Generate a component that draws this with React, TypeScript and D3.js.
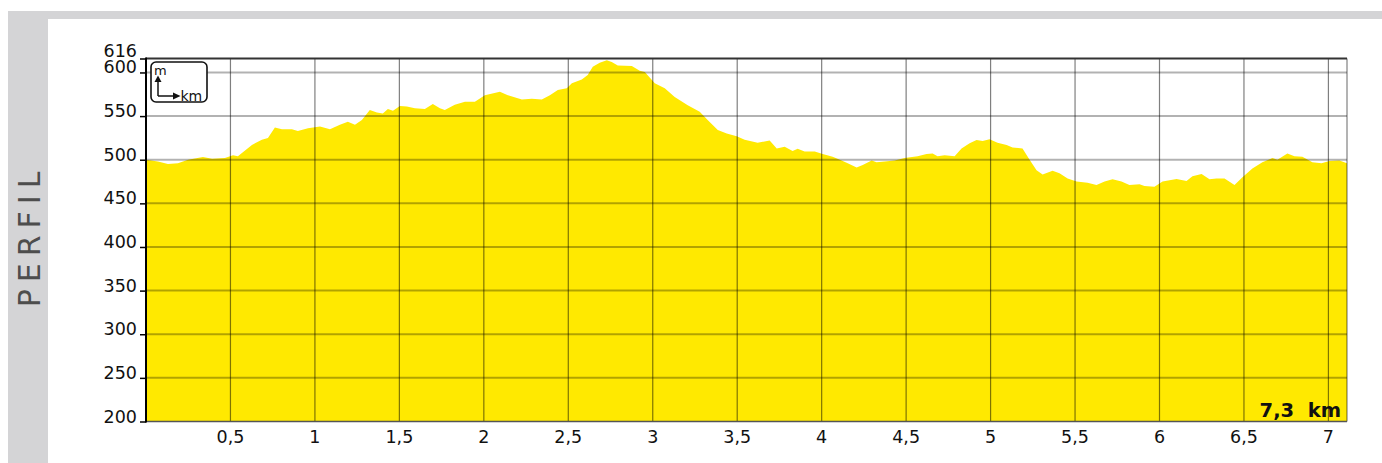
import * as d3 from 'd3';

// distance (km) and elevation (m)
const distKm = [
  0, 0.071, 0.13, 0.189, 0.249, 0.337, 0.391, 0.467, 0.515, 0.544, 0.627, 0.686, 0.722, 0.763,
  0.805, 0.864, 0.899, 0.959, 1.03, 1.089, 1.148, 1.195, 1.237, 1.278, 1.325, 1.367, 1.402,
  1.432, 1.462, 1.503, 1.544, 1.592, 1.651, 1.698, 1.74, 1.769, 1.828, 1.888, 1.947, 2.006,
  2.095, 2.142, 2.225, 2.284, 2.343, 2.391, 2.438, 2.491, 2.521, 2.58, 2.615, 2.645, 2.686,
  2.728, 2.757, 2.793, 2.876, 2.923, 2.953, 3.012, 3.071, 3.13, 3.207, 3.278, 3.325, 3.385,
  3.438, 3.497, 3.544, 3.621, 3.692, 3.734, 3.781, 3.828, 3.858, 3.899, 3.959, 4.006, 4.065,
  4.118, 4.154, 4.207, 4.243, 4.296, 4.325, 4.373, 4.432, 4.491, 4.568, 4.621, 4.657, 4.686,
  4.728, 4.787, 4.828, 4.876, 4.917, 4.953, 4.994, 5.041, 5.095, 5.13, 5.189, 5.231, 5.272,
  5.308, 5.367, 5.408, 5.456, 5.509, 5.574, 5.627, 5.675, 5.722, 5.775, 5.822, 5.882, 5.911,
  5.97, 6.018, 6.101, 6.16, 6.195, 6.249, 6.296, 6.337, 6.385, 6.444, 6.491, 6.55, 6.609,
  6.669, 6.698, 6.757, 6.799, 6.846, 6.905, 6.959, 7.006, 7.065, 7.11,
];
const elevM = [
  500, 498, 495, 496, 500, 503, 501, 502, 505, 504, 517, 523, 525, 537,
  535, 535, 533, 536, 538, 535, 540, 543.5, 540, 545.5, 557, 554, 553,
  558, 556, 561.5, 561, 559, 558, 564, 559, 557, 563, 566.5, 566.5, 574,
  578, 574, 569, 570, 569, 574, 580, 582, 587.5, 592, 597, 606.5, 611,
  614, 612, 608, 607.5, 602, 600.5, 587.5, 582, 572, 562.5, 555, 545.5, 534,
  530, 527, 523, 519.5, 522, 513, 515, 510, 512.5, 509.5, 509.5, 506.5, 503.5,
  499, 496, 491, 494, 499, 497, 498, 499, 502, 504, 506.5, 507, 504,
  505, 504, 513, 519, 522.5, 521.5, 523.5, 519.5, 517, 514, 513, 500, 488,
  483, 487.5, 484.5, 478.5, 475, 473.5, 471, 475, 477.5, 475, 471, 472, 470,
  469, 475, 478, 475.5, 481, 483.5, 477.5, 478.5, 478.5, 471, 480, 490, 497,
  502, 500, 507, 504, 503.5, 497, 496, 498.5, 499, 496,
];

const xTicks = [0.5, 1, 1.5, 2, 2.5, 3, 3.5, 4, 4.5, 5, 5.5, 6, 6.5, 7];
const yTicks = [200, 250, 300, 350, 400, 450, 500, 550, 600, 616];
const yGrid = [250, 300, 350, 400, 450, 500, 550, 600];
const totalLabel = '7,3  km';
const sideTitle = 'PERFIL';

const W = 1382;
const H = 463;
const left = 146;
const right = 1347;
const bottom = 421.5;
const top = 58.5;
const font = '"DejaVu Sans", sans-serif';

export default function App() {
  const x = d3.scaleLinear().domain([0, 7.11]).range([left, right]);
  const y = d3.scaleLinear().domain([200, 616]).range([bottom, top]);

  const pts = distKm.map((d, i) => [d, elevM[i]] as [number, number]);
  const area = d3
    .area<[number, number]>()
    .x((d) => x(d[0]))
    .y0(y(200))
    .y1((d) => y(d[1]));

  const fmt = (v: number) => String(v).replace('.', ',');

  return (
    <svg
      width={W}
      height={H}
      style={{ position: 'absolute', left: 0, top: 0 }}
      fontFamily={font}
    >
      <rect x={0} y={0} width={W} height={H} fill="#fff" />
      {/* grey frame */}
      <rect x={8} y={11} width={W - 8} height={8} fill="#d4d4d6" />
      <rect x={8} y={11} width={40} height={H - 11} fill="#d4d4d6" />
      <text
        transform={`translate(39.5,${236}) rotate(-90)`}
        textAnchor="middle"
        fontSize={30}
        letterSpacing={7}
        fill="#4d4d4d"
      >
        {sideTitle}
      </text>

      <path d={area(pts) ?? ''} fill="#ffe900" />

      {/* horizontal grid */}
      {yGrid.map((v) => (
        <line
          key={'h' + v}
          x1={left}
          x2={right}
          y1={y(v)}
          y2={y(v)}
          stroke="#000"
          strokeOpacity={0.3}
          strokeWidth={2}
        />
      ))}
      {/* vertical grid */}
      {xTicks.map((v) => (
        <line
          key={'v' + v}
          x1={x(v)}
          x2={x(v)}
          y1={top}
          y2={bottom}
          stroke="#000"
          strokeOpacity={0.5}
          strokeWidth={1.2}
        />
      ))}
      <line x1={right} x2={right} y1={top} y2={bottom} stroke="#000" strokeOpacity={0.4} strokeWidth={1.5} />
      <line x1={left} x2={right} y1={top} y2={top} stroke="#333" strokeWidth={1.8} />
      <line x1={left} x2={right} y1={bottom} y2={bottom} stroke="#555" strokeWidth={1.5} />
      <line x1={left} x2={left} y1={top - 1} y2={bottom + 1} stroke="#000" strokeWidth={2} />

      {/* y axis ticks + labels */}
      {yTicks.map((v) => (
        <g key={'yt' + v}>
          <line x1={140} x2={left} y1={y(v) + 0.5} y2={y(v) + 0.5} stroke="#000" strokeWidth={1.5} />
          <text
            x={137}
            y={v === 616 ? y(v) - 2 : y(v) + 1}
            textAnchor="end"
            fontSize={17.5}
            fill="#111"
          >
            {v}
          </text>
        </g>
      ))}

      {/* x axis labels */}
      {xTicks.map((v) => (
        <text key={'xt' + v} x={x(v)} y={443} textAnchor="middle" fontSize={17.5} fill="#111">
          {fmt(v)}
        </text>
      ))}

      <text
        x={1341}
        y={417}
        textAnchor="end"
        fontSize={19.5}
        fontWeight="bold"
        fill="#111"
        style={{ whiteSpace: 'pre' }}
      >
        {totalLabel}
      </text>

      {/* m / km legend box */}
      <g>
        <rect x={151} y={62} width={56} height={40} rx={5} fill="#fff" stroke="#111" strokeWidth={1.6} />
        <text x={154} y={75} fontSize={13} fill="#111">m</text>
        <line x1={158} x2={158} y1={80} y2={96} stroke="#111" strokeWidth={1.5} />
        <path d="M154.5,82 L158,75.5 L161.5,82 Z" fill="#111" />
        <line x1={158} x2={175} y1={96} y2={96} stroke="#111" strokeWidth={1.5} />
        <path d="M173,92.5 L180.5,96 L173,99.5 Z" fill="#111" />
        <text x={180.5} y={100.5} fontSize={14} fill="#111">km</text>
      </g>
    </svg>
  );
}
